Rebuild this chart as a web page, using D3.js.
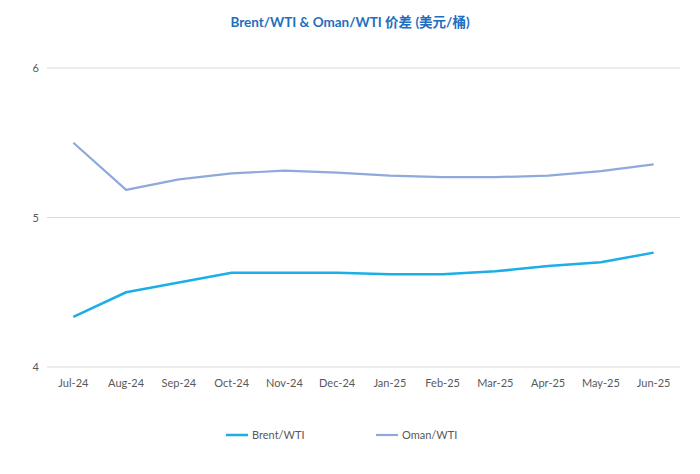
<!DOCTYPE html>
<html>
<head>
<meta charset="utf-8">
<script src="https://cdn.jsdelivr.net/npm/d3@7"></script>
<style>
  body { margin: 0; background: #fff; }
  svg text { font-family: Lato, "Noto Sans CJK SC", sans-serif; }
</style>
</head>
<body>
<div id="chart"></div>
<script>
const months = ["Jul-24", "Aug-24", "Sep-24", "Oct-24", "Nov-24", "Dec-24",
                "Jan-25", "Feb-25", "Mar-25", "Apr-25", "May-25", "Jun-25"];
const brentWti = [4.335, 4.50, 4.565, 4.63, 4.63, 4.63, 4.62, 4.62, 4.64, 4.675, 4.70, 4.765];
const omanWti = [5.50, 5.185, 5.255, 5.295, 5.313, 5.30, 5.28, 5.27, 5.27, 5.28, 5.31, 5.355];
const yTicks = [4, 5, 6];

const width = 700, height = 474;
const margin = { top: 68, right: 20, bottom: 107, left: 47 };

const svg = d3.select("#chart")
    .append("svg")
        .attr("width", width)
        .attr("height", height);

const x = d3.scaleBand()
    .domain(months)
    .range([margin.left, width - margin.right]);

const y = d3.scaleLinear()
    .domain([4, 6])
    .range([height - margin.bottom, margin.top]);

// gridlines
svg.append("g")
    .selectAll("line")
    .data(yTicks)
    .enter()
    .append("line")
        .attr("x1", margin.left)
        .attr("x2", width - margin.right)
        .attr("y1", d => y(d))
        .attr("y2", d => y(d))
        .attr("stroke", "#d9d9d9")
        .attr("stroke-width", 1);

// y labels
svg.append("g")
    .selectAll("text")
    .data(yTicks)
    .enter()
    .append("text")
        .attr("x", 39)
        .attr("y", d => y(d) + 4)
        .attr("text-anchor", "end")
        .attr("font-size", "11px")
        .attr("fill", "#595959")
        .text(d => d);

// x labels
svg.append("g")
    .selectAll("text")
    .data(months)
    .enter()
    .append("text")
        .attr("x", d => x(d) + x.bandwidth() / 2)
        .attr("y", 387)
        .attr("text-anchor", "middle")
        .attr("font-size", "11px")
        .attr("fill", "#595959")
        .text(d => d);

const line = d3.line()
    .x((d, i) => x(months[i]) + x.bandwidth() / 2)
    .y(d => y(d));

const series = [
    { name: "Brent/WTI", values: brentWti, color: "#1caee6", width: 2.5 },
    { name: "Oman/WTI", values: omanWti, color: "#8ea9db", width: 2.2 }
];

series.forEach(s => {
    svg.append("path")
        .datum(s.values)
        .attr("fill", "none")
        .attr("stroke", s.color)
        .attr("stroke-width", s.width)
        .attr("stroke-linejoin", "round")
        .attr("d", line);
});

// title
svg.append("text")
    .attr("x", 350)
    .attr("y", 27)
    .attr("text-anchor", "middle")
    .attr("font-size", "13.5px")
    .attr("font-weight", "bold")
    .attr("fill", "#1f6ebf")
    .text("Brent/WTI & Oman/WTI 价差 (美元/桶)");

// legend
const legendX = [226, 376];
const legend = svg.append("g")
    .selectAll("g")
    .data(series)
    .enter()
    .append("g")
        .attr("transform", (d, i) => `translate(${legendX[i]},435)`);
legend.append("line")
    .attr("x1", 0).attr("x2", 22)
    .attr("stroke", d => d.color)
    .attr("stroke-width", d => d.width);
legend.append("text")
    .attr("x", 26)
    .attr("y", 4)
    .attr("font-size", "11px")
    .attr("fill", "#595959")
    .text(d => d.name);
</script>
</body>
</html>
